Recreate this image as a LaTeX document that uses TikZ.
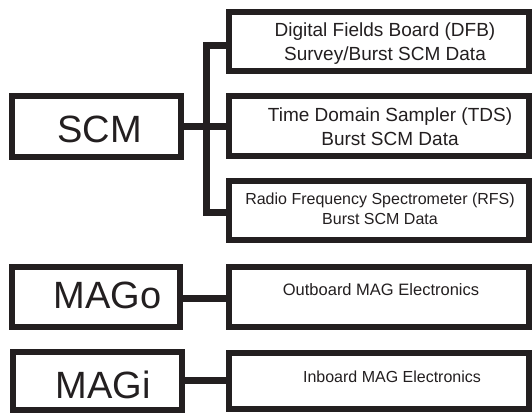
\documentclass[tikz,border=0pt]{standalone}
\usepackage{fontspec}
\setmainfont{Liberation Sans}
\definecolor{ink}{HTML}{231F20}
\begin{document}
\begin{tikzpicture}[x=1pt,y=-1pt,
  box/.style={draw=ink,line width=6pt,inner sep=0pt,outer sep=0pt,rectangle,fill=white},
  rbox/.style={box,minimum width=300.5pt},
  wire/.style={draw=ink,line width=7pt,line join=miter,line cap=butt},
  big/.style={text=ink,anchor=base,inner sep=0pt,font=\fontsize{38}{44}\selectfont},
  mid/.style={text=ink,anchor=base,inner sep=0pt,font=\fontsize{19}{23}\selectfont},
  sml/.style={text=ink,anchor=base,inner sep=0pt,font=\fontsize{16}{19}\selectfont}]
\useasboundingbox (0,0) rectangle (532,412);
% wires first
\coordinate (bt) at (206.5,45.5);
\coordinate (bb) at (206.5,212);
\coordinate (mj) at (206.5,126.5);
% boxes
\node[box,minimum width=169pt,minimum height=60.5pt] (scm) at (96.5,126.25) {};
\node[rbox,minimum height=58.5pt] (dfb) at (378.75,41.25) {};
\node[rbox,minimum height=60pt] (tds) at (378.75,125.5) {};
\node[rbox,minimum height=59pt] (rfs) at (378.75,210.5) {};
\node[box,minimum width=168.5pt,minimum height=59.5pt] (mago) at (95.75,296.75) {};
\node[rbox,minimum height=59.5pt] (outb) at (378.75,296.75) {};
\node[box,minimum width=169.5pt,minimum height=57.5pt] (magi) at (97.25,380.75) {};
\node[rbox,minimum height=56pt] (inb) at (378.75,380.5) {};
% connectors
\draw[wire] (scm.east |- mj) -- (mj -| tds.west);
\draw[wire] (bb -| rfs.west) -- (bb) -- (bt) -- (bt -| dfb.west);
\draw[wire] (mago.east |- 0,298) -- (outb.west |- 0,298);
\draw[wire] (magi.east |- 0,380) -- (inb.west |- 0,380);
% texts
\node[big] (scmt) at (99.5,142.7) {SCM};
\node[big] (magot) at (107.5,308.3) {MAGo};
\node[big] (magit) at (103.3,398.3) {MAGi};
\node[mid] (dfb1) at (385,37) {Digital Fields Board (DFB)};
\node[mid] (dfb2) at (385,60) {Survey/Burst SCM Data};
\node[mid] (tds1) at (390,121.5) {Time Domain Sampler (TDS)};
\node[mid] (tds2) at (390,145) {Burst SCM Data};
\node[sml] (rfs1) at (380,204) {Radio Frequency Spectrometer (RFS)};
\node[sml] (rfs2) at (380,224) {Burst SCM Data};
\node[sml,font=\fontsize{16.5}{19}\selectfont] (outt) at (381,295.7) {Outboard MAG Electronics};
\node[sml] (inbt) at (392,382) {Inboard MAG Electronics};
\end{tikzpicture}
\end{document}
